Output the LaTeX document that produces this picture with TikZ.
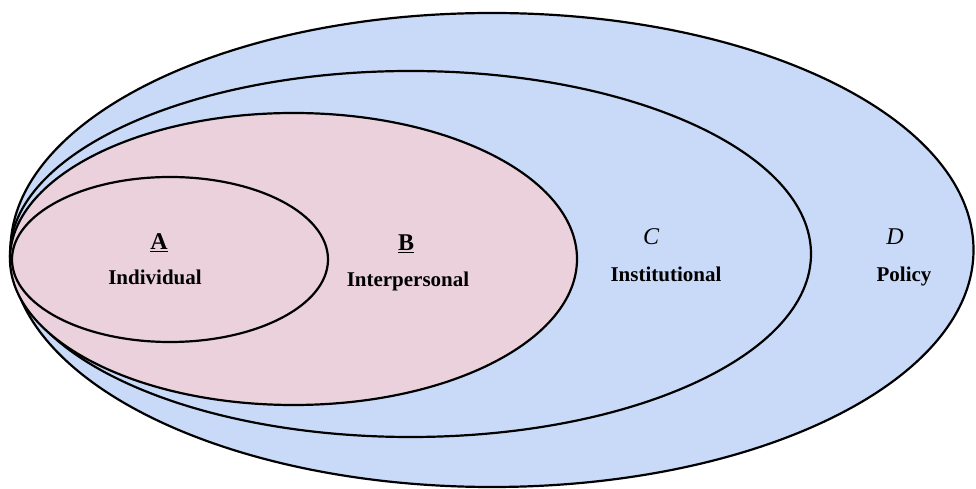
\documentclass[tikz,border=0pt]{standalone}
\usepackage{fontspec}
\setmainfont{Liberation Serif}
\usetikzlibrary{shapes.geometric}
\usetikzlibrary{positioning}
\definecolor{layerblue}{HTML}{C9DAF8}
\definecolor{layerpink}{HTML}{EAD1DC}

\begin{document}
\begin{tikzpicture}[x=1pt, y=1pt,
layer/.style ={ellipse, draw=black, line width=2.2pt, inner sep=0pt, outer sep=0pt},
tag/.style ={font=\fontsize{21}{24}\selectfont\bfseries, inner sep=0pt},
head/.style ={font=\fontsize{24}{28}\selectfont\bfseries, inner sep=0pt},
letter/.style ={font=\fontsize{24}{28}\selectfont\itshape, inner sep=0pt}]
\useasboundingbox (0,0) rectangle (976,489);
% nested layers, outermost first
\node[layer, fill=layerblue, minimum width=963pt, minimum height=474pt] (policy) at (492,239) {};
\node[layer, fill=layerblue, minimum width=801pt, minimum height=366pt] (inst) at (410.5,235) {};
\node[layer, fill=layerpink, minimum width=567pt, minimum height=292pt] (inter) at (293.5,230) {};
\node[layer, fill=layerpink, minimum width=316pt, minimum height=165pt] (indiv) at (170,229.5) {};
% labels
\node[head] (a) at (159,246) {\underline{A}};
\node[tag, anchor=base] (indivtxt) at (155,204) {Individual};
\node[head] (b) at (406,245) {\underline{B}};
\node[tag, anchor=base] (intertxt) at (408,202) {Interpersonal};
\node[letter] (c) at (651,252) {C};
\node[tag, anchor=base] (insttxt) at (666,207) {Institutional};
\node[letter] (d) at (895,252) {D};
\node[tag, anchor=base] (policytxt) at (904,207) {Policy};
\end{tikzpicture}
\end{document}
